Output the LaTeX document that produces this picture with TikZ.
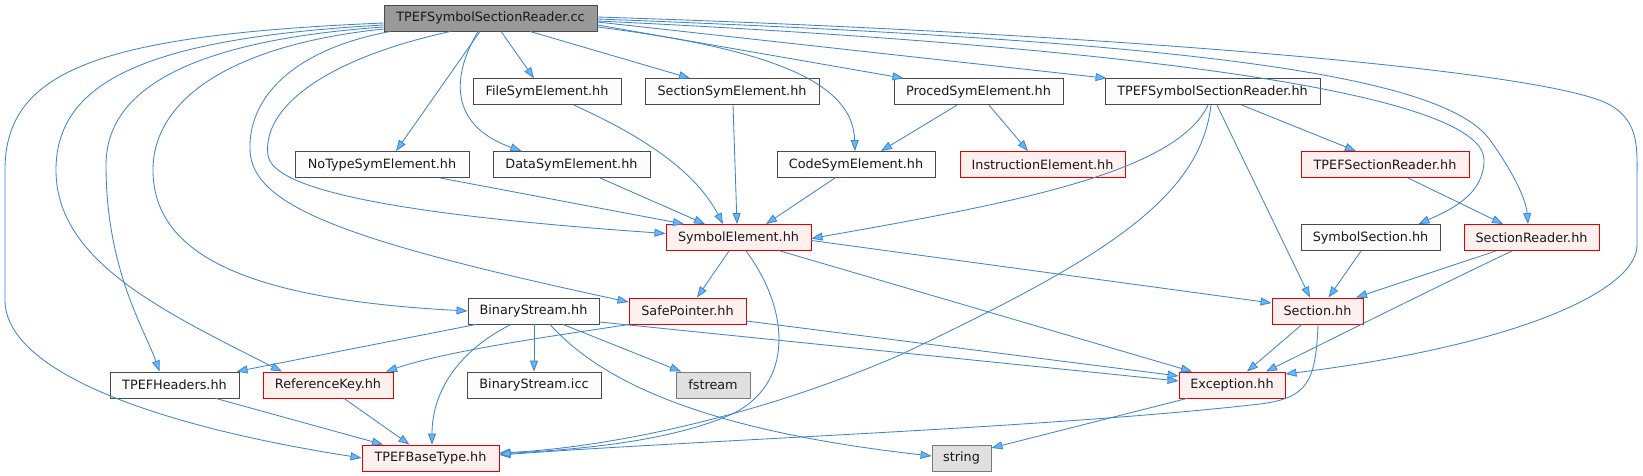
\documentclass[tikz,border=0pt]{standalone}
\usepackage{fontspec}
\setmainfont{DejaVu Sans}
\usetikzlibrary{arrows.meta}
\definecolor{edgecol}{HTML}{3F86CC}
\definecolor{arrowfill}{HTML}{63B8FF}
\definecolor{plainfill}{HTML}{FBFCFB}
\definecolor{plaindraw}{HTML}{4A4A4A}
\definecolor{redfill}{HTML}{FFF0F0}
\definecolor{reddraw}{HTML}{E00000}
\definecolor{sysfill}{HTML}{E0E0E0}
\definecolor{sysdraw}{HTML}{7A7A7A}
\definecolor{rootfill}{HTML}{999999}
\definecolor{rootdraw}{HTML}{4A4A4A}
\tikzset{
  nd/.style={rectangle, inner sep=0pt, minimum height=26pt, line width=0.9pt,
    font=\fontsize{12.8}{15}\selectfont, text=black!90},
  plainn/.style={nd, draw=plaindraw, fill=plainfill},
  redn/.style={nd, draw=reddraw, fill=redfill},
  sysn/.style={nd, draw=sysdraw, fill=sysfill},
  rootn/.style={nd, draw=rootdraw, fill=rootfill},
  edge/.style={draw=edgecol, line width=0.85pt,
    -{Triangle[length=11pt,width=8pt,fill=arrowfill]}}
}
\begin{document}
\begin{tikzpicture}[x=1pt,y=-1pt]
\useasboundingbox (0,0) rectangle (1643,476);
% nodes
\node[rootn, minimum width=213pt] (root) at (490.5,18) {TPEFSymbolSectionReader.cc};
\node[plainn, minimum width=148pt] (file) at (547,91.7) {FileSymElement.hh};
\node[plainn, minimum width=174pt] (secsym) at (732,91.7) {SectionSymElement.hh};
\node[plainn, minimum width=169pt] (proced) at (978.5,91.7) {ProcedSymElement.hh};
\node[plainn, minimum width=215pt] (tsrhh) at (1212.5,91.7) {TPEFSymbolSectionReader.hh};
\node[plainn, minimum width=174pt] (notype) at (382,164.5) {NoTypeSymElement.hh};
\node[plainn, minimum width=157pt] (datasym) at (571.5,164.5) {DataSymElement.hh};
\node[plainn, minimum width=158pt] (codesym) at (856,164.5) {CodeSymElement.hh};
\node[redn, minimum width=165pt] (instr) at (1042.5,164.5) {InstructionElement.hh};
\node[redn, minimum width=168pt] (tpefsecrd) at (1385,164.5) {TPEFSectionReader.hh};
\node[redn, minimum width=145pt] (symel) at (738.5,237.5) {SymbolElement.hh};
\node[plainn, minimum width=139pt] (symsec) at (1370.5,237.5) {SymbolSection.hh};
\node[redn, minimum width=135pt] (secrd) at (1531.5,237.5) {SectionReader.hh};
\node[plainn, minimum width=131pt] (binstr) at (533.5,311) {BinaryStream.hh};
\node[redn, minimum width=117pt] (safep) at (687.5,311) {SafePointer.hh};
\node[redn, minimum width=91pt] (section) at (1317.5,311) {Section.hh};
\node[plainn, minimum width=129pt] (headers) at (174.5,385) {TPEFHeaders.hh};
\node[redn, minimum width=130pt] (refkey) at (328,385) {ReferenceKey.hh};
\node[plainn, minimum width=134pt] (binicc) at (534,385) {BinaryStream.icc};
\node[sysn, minimum width=74pt] (fstream) at (713,385) {fstream};
\node[redn, minimum width=106pt] (exception) at (1232,385) {Exception.hh};
\node[redn, minimum width=137pt] (basetype) at (430.5,458) {TPEFBaseType.hh};
\node[sysn, minimum width=59pt] (string) at (961.5,458) {string};
% edges from root
\draw[edge] ([xshift=10.5pt]root.south) -- ([xshift=-13pt]file.north);
\draw[edge] ([xshift=39.5pt]root.south) -- ([xshift=-42pt]secsym.north);
\draw[edge] ([yshift=-7pt]root.east) -- ([xshift=-75pt]proced.north);
\draw[edge] ([yshift=-4pt]root.east) -- ([xshift=2pt]tsrhh.north west);
\draw[edge] ([yshift=-9pt]root.east) .. controls (780,50) and (853,85) .. ([xshift=-1pt]codesym.north);
\draw[edge] ([xshift=-10.5pt]root.south) -- ([xshift=14pt]notype.north);
\draw[edge] ([xshift=-12.5pt]root.south) .. controls (452,75) and (448,125) .. ([xshift=-50pt]datasym.north);
\draw[edge] ([xshift=-40pt]root.south) .. controls (320,60) and (262,110) .. (268,155)
  .. controls (272,190) and (400,215) .. ([yshift=4pt]symel.west);
\draw[edge] ([xshift=-100pt]root.south) .. controls (290,50) and (248,100) .. (250,150)
  .. controls (252,205) and (340,240) .. ([yshift=9pt]safep.west);
\draw[edge] ([yshift=-11pt]root.west) .. controls (230,45) and (153,100) .. (153,170)
  .. controls (153,260) and (260,300) .. (binstr.west);
\draw[edge] ([yshift=-9pt]root.west) .. controls (200,40) and (106,85) .. (106,165)
  .. controls (106,270) and (145,330) .. ([xshift=-15pt]headers.north);
\draw[edge] ([yshift=-7pt]root.west) .. controls (150,38) and (56,80) .. (56,170)
  .. controls (56,260) and (160,310) .. ([xshift=-46pt]refkey.north);
\draw[edge] ([yshift=-5pt]root.west) .. controls (100,35) and (5,70) .. (5,170) -- (5,300)
  .. controls (5,370) and (150,425) .. (basetype.west);
\draw[edge] ([yshift=-3pt]root.east) .. controls (1100,45) and (1484,90) .. (1484,160)
  .. controls (1484,195) and (1450,210) .. ([xshift=48pt]symsec.north);
\draw[edge] ([yshift=-1pt]root.east) .. controls (1150,40) and (1440,70) .. (1490,140)
  .. controls (1515,175) and (1526,200) .. ([xshift=-3.5pt]secrd.north);
\draw[edge] ([yshift=1pt]root.east) .. controls (1100,33) and (1550,70) .. (1610,105)
  .. controls (1640,122) and (1637,150) .. (1637,180) -- (1637,245)
  .. controls (1637,290) and (1520,345) .. ([yshift=11pt]exception.east);
% other edges
\draw[edge] ([xshift=27pt]file.south) .. controls (640,135) and (695,170) .. ([xshift=-15.5pt]symel.north);
\draw[edge] ([xshift=1pt]secsym.south) -- ([xshift=-1.5pt]symel.north);
\draw[edge] ([xshift=28.5pt]datasym.south) -- ([xshift=-33.5pt]symel.north);
\draw[edge] ([xshift=58pt]notype.south) -- ([xshift=-54.5pt]symel.north);
\draw[edge] ([xshift=-21pt]codesym.south) -- ([xshift=27.5pt]symel.north);
\draw[edge] ([xshift=-21.5pt]proced.south) -- ([xshift=25pt]codesym.north);
\draw[edge] ([xshift=10.5pt]proced.south) -- ([xshift=-14.5pt]instr.north);
\draw[edge] ([xshift=-4.5pt]tsrhh.south) .. controls (1175,175) and (1000,205) .. ([yshift=-1pt]symel.east);
\draw[edge] ([xshift=-1.5pt]tsrhh.south) .. controls (1200,200) and (1100,260) .. (900,355)
  .. controls (750,420) and (600,448) .. ([yshift=5pt]basetype.east);
\draw[edge] ([xshift=4.5pt]tsrhh.south) -- ([xshift=-7.5pt]section.north);
\draw[edge] ([xshift=29.5pt]tsrhh.south) -- ([xshift=-29pt]tpefsecrd.north);
\draw[edge] ([xshift=23pt]tpefsecrd.south) -- ([xshift=-28.5pt]secrd.north);
\draw[edge] ([xshift=-9.5pt]symsec.south) -- ([xshift=11pt]section.north);
\draw[edge] ([xshift=-35.5pt]secrd.south) -- ([xshift=38.5pt]section.north);
\draw[edge] ([xshift=-19.5pt]secrd.south) .. controls (1430,290) and (1330,340) .. ([xshift=34pt]exception.north);
\draw[edge] ([xshift=-15.5pt]section.south) -- ([xshift=15pt]exception.north);
\draw[edge] ([xshift=0.5pt]section.south) .. controls (1316,385) and (1305,398) .. (1260,404)
  .. controls (1050,428) and (700,440) .. ([yshift=3pt]basetype.east);
\draw[edge] ([xshift=-9.5pt]symel.south) -- ([xshift=9.5pt]safep.north);
\draw[edge] ([xshift=7.5pt]symel.south) .. controls (790,310) and (795,385) .. (730,415)
  .. controls (660,445) and (560,450) .. ([yshift=4pt]basetype.east);
\draw[edge] ([yshift=-3pt]symel.east) -- ([yshift=8pt]section.west);
\draw[edge] ([xshift=41.5pt]symel.south) -- ([xshift=-40pt]exception.north);
\draw[edge] ([xshift=-57.5pt]binstr.south) -- ([xshift=62pt]headers.north);
\draw[edge] ([xshift=-22.5pt]binstr.south) .. controls (460,350) and (432,390) .. ([xshift=1.5pt]basetype.north);
\draw[edge] ([xshift=0.5pt]binstr.south) -- (binicc.north);
\draw[edge] ([xshift=29.5pt]binstr.south) -- ([xshift=-32pt]fstream.north);
\draw[edge] ([xshift=16.5pt]binstr.south) .. controls (600,380) and (700,430) .. ([yshift=2pt]string.west);
\draw[edge] ([yshift=-11pt]binstr.east) -- ([yshift=4pt]exception.west);
\draw[edge] ([xshift=-58.5pt]safep.south) .. controls (560,335) and (450,350) .. ([xshift=58pt]refkey.north);
\draw[edge] ([yshift=-10pt]safep.east) -- ([yshift=9pt]exception.west);
\draw[edge] ([xshift=41.5pt]headers.south) -- ([xshift=-47.5pt]basetype.north);
\draw[edge] ([xshift=16pt]refkey.south) -- ([xshift=-21pt]basetype.north);
\draw[edge] ([xshift=-45pt]exception.south) -- ([yshift=10pt]string.east);
\end{tikzpicture}
\end{document}
